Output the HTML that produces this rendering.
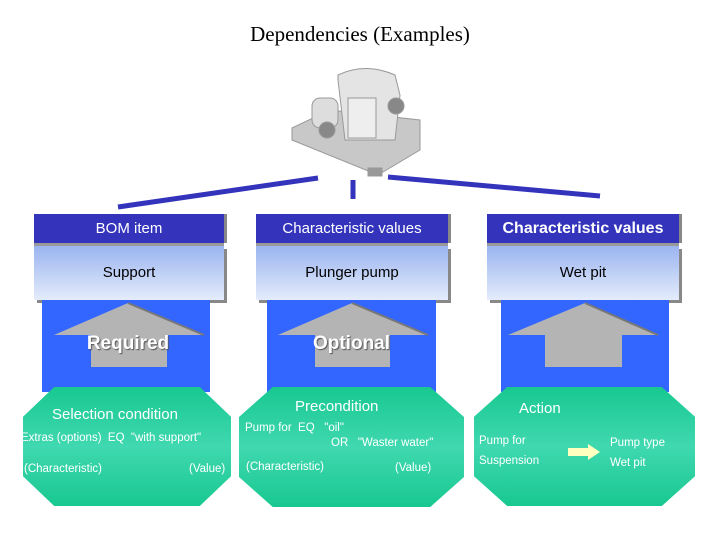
<!DOCTYPE html>
<html><head><style>
body{margin:0;width:720px;height:540px;background:#fff;position:relative;overflow:hidden;font-family:"Liberation Sans",sans-serif}
.a{position:absolute}
.title{left:0;width:720px;top:22px;text-align:center;font-family:"Liberation Serif",serif;font-size:21px}
.hd{background:#3333bb;color:#fff;font-size:15px;text-align:center;line-height:29px;height:29px;box-shadow:3px 0 0 #888,0 3px 0 #999}
.lt{background:linear-gradient(#9ab4f0,#e4ecfb);color:#000;font-size:15px;text-align:center;line-height:54px;height:54px;box-shadow:3px 3px 0 #888}
.bl{background:#3366ff}
.oct{background:linear-gradient(#18c890,#40d8b0 50%,#18c890);clip-path:polygon(15% 0,85% 0,100% 25%,100% 75%,85% 100%,15% 100%,0 75%,0 25%);color:#fff;font-size:12px}
.oct div{position:absolute;white-space:nowrap}
.big{color:#fff;font-weight:bold;font-size:19px;text-shadow:1px 1px 1px #555}
</style></head><body>
<div class="a title">Dependencies (Examples)</div>
<svg class="a" style="left:0;top:0" width="720" height="540">
<g fill="#c8c8c8" stroke="#999">
<polygon points="292,128 330,110 420,120 420,150 378,175 292,140"/>
<rect x="312" y="98" width="26" height="30" rx="8" fill="#ddd"/>
<path d="M338,80 L338,75 Q365,62 395,75 L400,95 L395,140 L345,140 Z" fill="#e4e4e4"/>
<rect x="348" y="98" width="28" height="40" fill="#eee"/>
<circle cx="327" cy="130" r="8" fill="#888"/>
<circle cx="396" cy="106" r="8" fill="#888"/>
<rect x="368" y="168" width="14" height="8" fill="#999"/>
</g>
<g stroke="#3333bb" stroke-width="5">
<line x1="118" y1="207" x2="318" y2="178"/>
<line x1="353" y1="180" x2="353" y2="199"/>
<line x1="388" y1="177" x2="600" y2="196"/>
</g>
</svg>

<div class="a hd" style="left:34px;top:214px;width:190px">BOM item</div>
<div class="a lt" style="left:34px;top:246px;width:190px">Support</div>
<div class="a bl" style="left:42px;top:300px;width:168px;height:92px"></div>

<div class="a hd" style="left:256px;top:214px;width:192px">Characteristic values</div>
<div class="a lt" style="left:256px;top:246px;width:192px">Plunger pump</div>
<div class="a bl" style="left:267px;top:300px;width:169px;height:92px"></div>

<div class="a hd" style="left:487px;top:214px;width:192px;font-weight:bold;font-size:16px">Characteristic values</div>
<div class="a lt" style="left:487px;top:246px;width:192px">Wet pit</div>
<div class="a bl" style="left:501px;top:300px;width:168px;height:92px"></div>

<svg class="a" style="left:0;top:0" width="720" height="540">
<g fill="#b4b4b4">
<polygon points="128,303 204,335 167,335 167,367 91,367 91,335 54,335"/>
<polygon points="352,303 428,335 390,335 390,367 315,367 315,335 278,335"/>
<polygon points="585,303 658,335 622,335 622,367 545,367 545,335 508,335"/>
</g>
<g stroke="#777" stroke-width="2" fill="none">
<polyline points="128,303 204,335"/><polyline points="352,303 428,335"/><polyline points="585,303 658,335"/>
</g>
</svg>
<div class="a big" style="left:42px;width:172px;top:333px;text-align:center">Required</div>
<div class="a big" style="left:267px;width:169px;top:333px;text-align:center">Optional</div>

<div class="a oct" style="left:23px;top:387px;width:208px;height:119px">
<div style="left:29px;top:19px;font-size:15px">Selection condition</div>
<div style="left:-2px;top:45px;font-size:11.5px">Extras (options)&nbsp; EQ&nbsp; "with support"</div>
<div style="left:1px;top:76px;font-size:11.5px">(Characteristic)</div>
<div style="left:166px;top:76px;font-size:11.5px">(Value)</div>
</div>
<div class="a oct" style="left:239px;top:387px;width:225px;height:120px">
<div style="left:56px;top:11px;font-size:15px">Precondition</div>
<div style="left:6px;top:35px;font-size:11.5px">Pump for&nbsp; EQ&nbsp;&nbsp; "oil"</div>
<div style="left:92px;top:50px;font-size:11.5px">OR&nbsp;&nbsp; "Waster water"</div>
<div style="left:7px;top:74px;font-size:11.5px">(Characteristic)</div>
<div style="left:156px;top:75px;font-size:11.5px">(Value)</div>
</div>
<div class="a oct" style="left:474px;top:387px;width:221px;height:119px">
<div style="left:45px;top:13px;font-size:15px">Action</div>
<div style="left:5px;top:48px;font-size:11.5px">Pump for</div>
<div style="left:5px;top:68px;font-size:11.5px">Suspension</div>
<div style="left:136px;top:50px;font-size:11.5px">Pump type</div>
<div style="left:136px;top:70px;font-size:11.5px">Wet pit</div>
<svg style="position:absolute;left:94px;top:57px" width="34" height="16"><polygon points="0,4 20,4 20,0 32,8 20,16 20,12 0,12" fill="#ffffc0"/></svg>
</div>
</body></html>
